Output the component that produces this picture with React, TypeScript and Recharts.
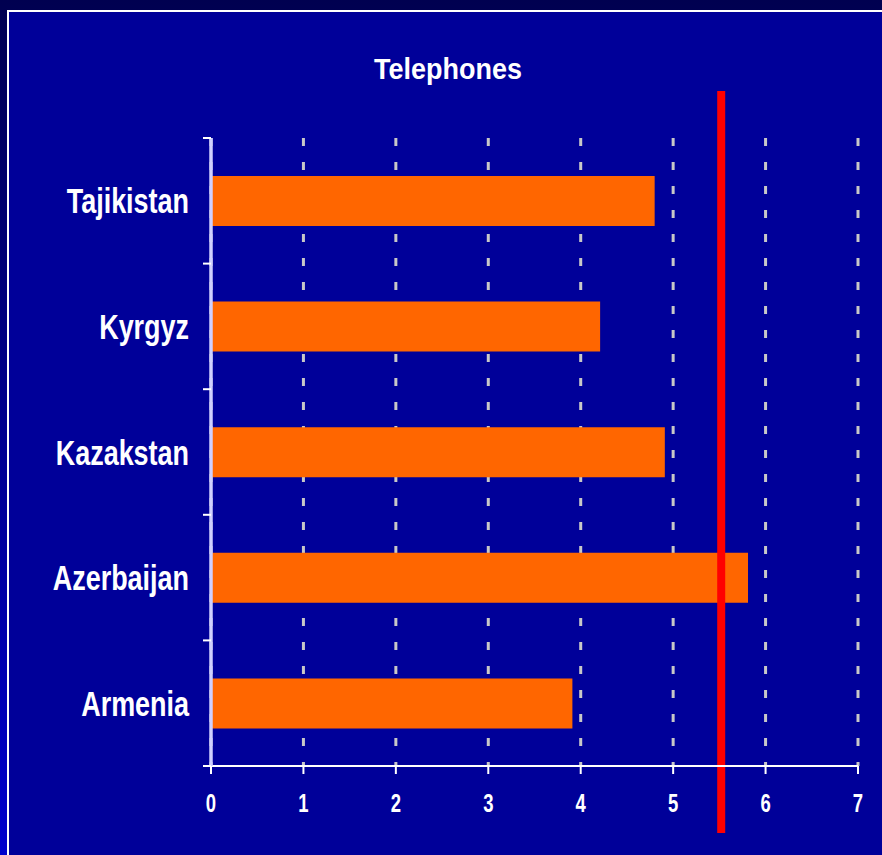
import React from 'react';
import { BarChart, Bar, XAxis, YAxis, CartesianGrid, ReferenceLine } from 'recharts';

const countries = ['Tajikistan', 'Kyrgyz', 'Kazakstan', 'Azerbaijan', 'Armenia'];
const telephones = [4.8, 4.21, 4.91, 5.81, 3.91];
const xTicks = [0, 1, 2, 3, 4, 5, 6, 7];
const averageLine = 5.52;

const data = countries.map((name, i) => ({ name, value: telephones[i] }));

// narrow fonts are not installed, so the bold sans is squeezed horizontally
const FONT = '"Liberation Sans", Arial, sans-serif';

const CountryTick = (props: any) => {
  const { x, y, payload, index } = props;
  const half = payload && payload.offset ? payload.offset : 62.8;
  const axisX = x + 8;
  return (
    <g>
      <line x1={axisX - 8} x2={axisX} y1={y - half} y2={y - half} stroke="#ffffff" strokeWidth={2} />
      {index === countries.length - 1 && (
        <line x1={axisX - 8} x2={axisX} y1={y + half} y2={y + half} stroke="#ffffff" strokeWidth={2} />
      )}
      <text
        transform={`translate(${axisX - 22},${y}) scale(0.77,1)`}
        dy="0.36em"
        textAnchor="end"
        fill="#ffffff"
        fontFamily={FONT}
        fontWeight="bold"
        fontSize={35}
      >
        {payload.value}
      </text>
    </g>
  );
};

const ValueTick = (props: any) => {
  const { x, y, payload } = props;
  return (
    <text
      transform={`translate(${x},${y}) scale(0.74,1)`}
      dy="0.71em"
      textAnchor="middle"
      fill="#ffffff"
      fontFamily={FONT}
      fontWeight="bold"
      fontSize={25}
    >
      {payload.value}
    </text>
  );
};

const RedLine = (props: any) => {
  const { x1, x2, y1, y2 } = props;
  const top = Math.min(y1, y2);
  const bottom = Math.max(y1, y2);
  return <line x1={x1} x2={x2} y1={top - 47} y2={bottom + 67} stroke="#ff0000" strokeWidth={8} />;
};

export default function App() {
  return (
    <div
      style={{
        position: 'absolute',
        left: 0,
        top: 0,
        width: 882,
        height: 855,
        overflow: 'hidden',
        background: 'linear-gradient(to bottom, #000050, #0000cc)',
      }}
    >
      <div
        style={{
          position: 'absolute',
          left: 7,
          top: 10,
          right: 0,
          bottom: 0,
          background: '#000099',
          borderLeft: '2px solid #ffffff',
          borderTop: '2px solid #ffffff',
        }}
      />
      <div
        style={{
          position: 'absolute',
          left: 0,
          top: 51,
          width: 896,
          textAlign: 'center',
          color: '#ffffff',
          fontFamily: FONT,
          fontWeight: 'bold',
          fontSize: 29,
          lineHeight: '36px',
          transform: 'scaleX(0.93)',
        }}
      >
        Telephones
      </div>
      <div style={{ position: 'absolute', left: 0, top: 0 }}>
        <BarChart
          width={882}
          height={855}
          data={data}
          layout="vertical"
          margin={{ top: 138, right: 24, left: 0, bottom: 0 }}
        >
          <CartesianGrid
            horizontal={false}
            vertical={true}
            stroke="#c8c8c8"
            strokeWidth={3}
            strokeDasharray="8 16"
          />
          <XAxis
            type="number"
            domain={[0, 7]}
            ticks={xTicks}
            interval={0}
            height={89}
            axisLine={{ stroke: '#ffffff', strokeWidth: 2 }}
            tickLine={{ stroke: '#ffffff', strokeWidth: 2 }}
            tickSize={8}
            tickMargin={20}
            tick={<ValueTick />}
          />
          <YAxis
            type="category"
            dataKey="name"
            width={211}
            interval={0}
            axisLine={{ stroke: '#d0d0ff', strokeWidth: 3.5 }}
            tickLine={false}
            tick={<CountryTick />}
          />
          <Bar dataKey="value" fill="#ff6600" barSize={50} isAnimationActive={false} />
          <ReferenceLine x={averageLine} stroke="#ff0000" strokeWidth={8} shape={<RedLine />} />
        </BarChart>
      </div>
    </div>
  );
}
